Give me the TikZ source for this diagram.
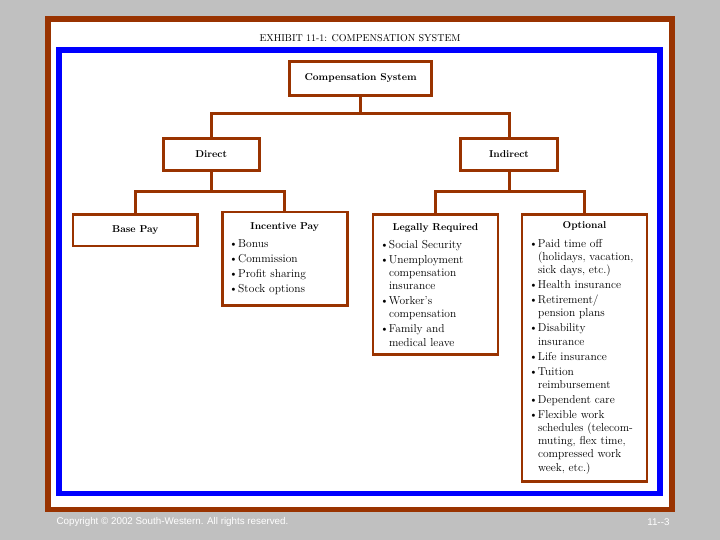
\documentclass[tikz,border=0pt]{standalone}
\usepackage{fontspec}
\usepackage{tikz}
\usetikzlibrary{positioning}
\newfontfamily\footfont{Liberation Sans}
\definecolor{brn}{RGB}{153,51,0}
\definecolor{bggray}{RGB}{192,192,192}
\definecolor{frblue}{RGB}{0,0,255}
\newcommand{\bitem}[1]{\par\hangindent=9pt\hangafter=1\noindent\makebox[9pt][l]{\textbullet}#1}
\newcommand{\boxtitle}[1]{{\centering\fontsize{10}{13.2}\selectfont\bfseries #1\par}\vspace{3.3pt}}

\begin{document}
\begin{tikzpicture}[x=1pt, y=-1pt,
		hbox/.style={draw=brn, line width=2.9pt, fill=white, inner sep=0pt,
			minimum width=#1, font=\fontsize{10}{12}\selectfont\bfseries},
		lbox/.style={draw=brn, line width=2.9pt, fill=white, inner xsep=7pt, inner ysep=0pt,
			text width=111pt, minimum height=#1, font=\fontsize{11.5}{13.2}\selectfont},
		conn/.style={draw=brn, line width=3pt}]
	% frames
	\fill[bggray] (0,0) rectangle (720,540);
	\useasboundingbox (0,0) rectangle (720,540);
	\draw[brn, line width=5.7pt, fill=white] (48,19) rectangle (672,509.5);
	\draw[frblue, line width=5.5pt] (59,50) rectangle (660,493.7);
	\node (exhibit) at (360,38) {\fontsize{10}{12}\selectfont EXHIBIT 11-1: COMPENSATION SYSTEM};
	% boxes
	\node[hbox=142pt, minimum height=34pt] (comp) at (360.7,78.3) {Compensation System};
	\node[hbox=96.3pt, minimum height=31.7pt] (direct) at (211.2,154.5) {Direct};
	\node[hbox=96.3pt, minimum height=31.7pt] (indirect) at (509,154.5) {Indirect};
	\node[hbox=124.6pt, minimum height=31.3pt] (base) at (135.3,230.3) {Base Pay};
	\node[lbox=93.3pt] (incent) at (284.7,258.7) {\setlength{\parskip}{1.8pt}\raggedright
		\boxtitle{Incentive Pay}
		\bitem{Bonus}
		\bitem{Commission}
		\bitem{Profit sharing}
		\bitem{Stock options}\par};
	\node[lbox=140pt] (legal) at (435.5,284.7) {\setlength{\parskip}{1.8pt}\raggedright
		\boxtitle{Legally Required}
		\bitem{Social Security}
		\bitem{Unemployment\newline compensation\newline insurance}
		\bitem{Worker's\newline compensation}
		\bitem{Family and\newline medical leave}\par};
	\node[lbox=266.7pt] (option) at (584.5,348) {\setlength{\parskip}{1.8pt}\raggedright
		\boxtitle{Optional}
		\bitem{Paid time off\newline (holidays, vacation,\newline sick days, etc.)}
		\bitem{Health insurance}
		\bitem{Retirement/\newline pension plans}
		\bitem{Disability\newline insurance}
		\bitem{Life insurance}
		\bitem{Tuition\newline reimbursement}
		\bitem{Dependent care}
		\bitem{Flexible work\newline schedules (telecom-\newline muting, flex time,\newline compressed work\newline week, etc.)}\par};
	% connectors
	\coordinate (topbus) at (360.7,114);
	\coordinate (dirbus) at (211.2,192);
	\coordinate (indbus) at (509,192);
	\draw[conn] (comp.south) -- (topbus);
	\draw[conn] (direct.north) |- (topbus) -| (indirect.north);
	\draw[conn] (direct.south) -- (dirbus);
	\draw[conn] (base.north) |- (dirbus) -| (incent.north);
	\draw[conn] (indirect.south) -- (indbus);
	\draw[conn] (legal.north) |- (indbus) -| (option.north);
	% footer
	\node[white, anchor=west, font=\footfont\fontsize{9.8}{11}\selectfont] (copy) at (53,522) {Copyright \textcopyright{} 2002 South-Western. All rights reserved.};
	\node[white, anchor=east, font=\footfont\fontsize{9.8}{11}\selectfont] (page) at (673,522) {11--3};
\end{tikzpicture}
\end{document}
